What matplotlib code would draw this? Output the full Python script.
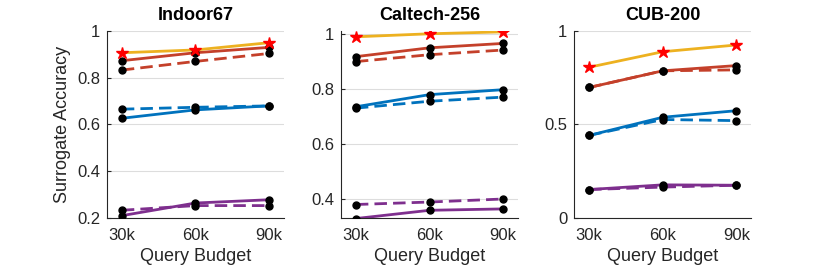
import numpy as np
import matplotlib
matplotlib.use('Agg')
import matplotlib.pyplot as plt

plt.rcParams['font.family'] = ['Liberation Sans', 'DejaVu Sans']

# data
budget = [30, 60, 90]
budget_labels = ['30k', '60k', '90k']
titles = ['Indoor67', 'Caltech-256', 'CUB-200']

victim = [[0.906, 0.918, 0.949], [0.988, 0.999, 1.006], [0.805, 0.888, 0.924]]
red_solid = [[0.872, 0.906, 0.929], [0.916, 0.948, 0.964], [0.697, 0.786, 0.814]]
red_dashed = [[0.832, 0.869, 0.903], [0.898, 0.923, 0.940], [0.697, 0.786, 0.791]]
blue_solid = [[0.626, 0.662, 0.679], [0.734, 0.778, 0.796], [0.441, 0.538, 0.573]]
blue_dashed = [[0.665, 0.673, 0.679], [0.729, 0.754, 0.769], [0.441, 0.526, 0.520]]
purple_solid = [[0.210, 0.264, 0.278], [0.328, 0.358, 0.363], [0.152, 0.177, 0.175]]
purple_dashed = [[0.233, 0.253, 0.253], [0.379, 0.388, 0.399], [0.152, 0.165, 0.175]]

ylims = [(0.2, 1.0), (0.33, 1.01), (0.0, 1.0)]
yticks = [[0.2, 0.4, 0.6, 0.8, 1.0], [0.4, 0.6, 0.8, 1.0], [0, 0.5, 1]]
yticklabels = [['0.2', '0.4', '0.6', '0.8', '1'], ['0.4', '0.6', '0.8', '1'], ['0', '0.5', '1']]

c_yel = '#EDB120'
c_red = '#C4402A'
c_blue = '#0072BD'
c_pur = '#7E2F8E'
dash = (0, (4.5, 2.2))

fig = plt.figure(figsize=(8.3, 2.77), dpi=100)
lefts = [0.129, 0.411, 0.692]

for k in range(3):
    ax = fig.add_axes([lefts[k], 0.213, 0.213, 0.676])
    for vals, col, ls in [(purple_dashed[k], c_pur, dash), (purple_solid[k], c_pur, '-'),
                          (blue_dashed[k], c_blue, dash), (blue_solid[k], c_blue, '-'),
                          (red_dashed[k], c_red, dash), (red_solid[k], c_red, '-')]:
        ax.plot(budget, vals, color=col, linestyle=ls, lw=2, zorder=2)
        ax.plot(budget, vals, 'o', color='black', ms=5, zorder=3)
    ax.plot(budget, victim[k], color=c_yel, lw=2, zorder=2)
    ax.plot(budget, victim[k], '*', color='red', ms=9, zorder=4)

    ax.set_xlim(24, 96)
    ax.set_ylim(*ylims[k])
    ax.set_xticks(budget)
    ax.set_xticklabels(budget_labels)
    ax.set_yticks(yticks[k])
    ax.set_yticklabels(yticklabels[k])
    ax.grid(axis='y', color='#DDDDDD', lw=0.8)
    ax.set_axisbelow(True)
    for s in ['top', 'right']:
        ax.spines[s].set_visible(False)
    for s in ['left', 'bottom']:
        ax.spines[s].set_color('#262626')
    ax.tick_params(direction='in', length=3, labelsize=12, colors='#262626', pad=5)
    ax.tick_params(axis='x', length=0, pad=7)
    ax.set_title(titles[k], fontsize=13, fontweight='bold', pad=8)
    ax.set_xlabel('Query Budget', fontsize=13, color='#262626')
    if k == 0:
        ax.set_ylabel('Surrogate Accuracy', fontsize=13, color='#262626')

fig.savefig('out.png', dpi=100)
